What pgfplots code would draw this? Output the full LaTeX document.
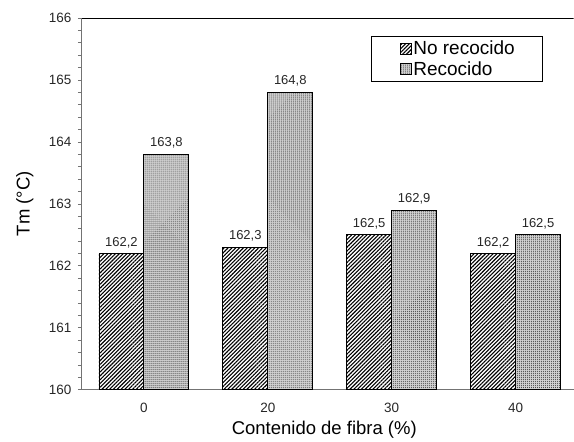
\documentclass[border=0pt]{standalone}
\usepackage{fontspec}
\setmainfont{Liberation Sans}
\usepackage{pgfplots}
\pgfplotsset{compat=1.18}
\usetikzlibrary{patterns.meta}

% Square legend swatch, indented inside the legend box
\pgfplotsset{
  swatch legend/.style={
    legend image code/.code={%
      \pgfpathmoveto{\pgfpoint{-27pt}{0pt}}%
      \pgfpathlineto{\pgfpoint{0pt}{0pt}}%
      \pgfusepath{discard}%
      \draw[##1] (0pt,-5.5pt) rectangle (11pt,5.5pt);}},
}

% Melting temperature per fibre content
\pgfplotstableread{
x  T
0  162.2
1  162.3
2  162.5
3  162.2
}\noannealed
\pgfplotstableread{
x  T
0  163.8
1  164.8
2  162.9
3  162.5
}\annealed

\begin{document}
\begin{tikzpicture}
\begin{axis}[
  scale only axis,
  width=492pt, height=372pt,
  ybar=0pt, bar width=45pt,
  xmin=-0.5, xmax=3.468,
  ymin=160, ymax=166,
  xtick={0,1,2,3},
  xticklabels={0,20,30,40},
  ytick={160,161,...,166},
  minor y tick num=4,
  axis x line*=bottom, axis y line*=left,
  axis line style={draw=black!55, line width=0.9pt},
  xtick style={draw=none},
  ytick style={draw=black!55, line width=0.6pt},
  tick align=outside,
  major tick length=4pt, minor tick length=4pt,
  /pgf/number format/assume math mode=true,
  tick label style={font=\fontsize{13.5}{16}\selectfont, text=black!85},
  yticklabel style={xshift=-3pt},
  xticklabel style={yshift=-6pt},
  xlabel={Contenido de fibra (\%)},
  ylabel={Tm (°C)},
  every axis x label/.style={at={(axis description cs:0.493,-0.1075)}, anchor=center, font=\fontsize{18.5}{21}\selectfont},
  every axis y label/.style={at={(axis description cs:-0.116,0.5)}, rotate=90, anchor=center, font=\fontsize{18.5}{21}\selectfont},
  nodes near coords,
  nodes near coords style={font=\fontsize{13}{15}\selectfont, text=black!85, yshift=2pt,
    /pgf/number format/.cd, fixed, fixed zerofill, precision=1, use comma, assume math mode=true},
  legend style={at={(0.937,0.952)}, anchor=north east, draw=black, line width=0.8pt,
    fill=white, font=\fontsize{19}{21}\selectfont, inner xsep=2pt, inner ysep=3pt,
    row sep=1pt, nodes={inner xsep=1.5pt}},
  legend cell align=left,
]
\addplot[draw=black, line width=0.8pt, fill=white,
  postaction={pattern={Lines[angle=45, distance=2.7pt, line width=1.1pt]}},
  swatch legend]
  table[x=x, y=T] {\noannealed};
\addlegendentry{No recocido\hspace*{24pt}}
\addplot[draw=black, line width=0.8pt, fill=black!18,
  postaction={pattern={Dots[distance=2pt, radius=0.45pt]}},
  swatch legend]
  table[x=x, y=T] {\annealed};
\addlegendentry{Recocido}
\draw[black, line width=0.9pt] (rel axis cs:0,1) -- (rel axis cs:1,1);
\end{axis}
\path ([shift={(-82pt,-52pt)}]current axis.south west) rectangle ([shift={(0pt,18pt)}]current axis.north east);
\end{tikzpicture}
\end{document}
